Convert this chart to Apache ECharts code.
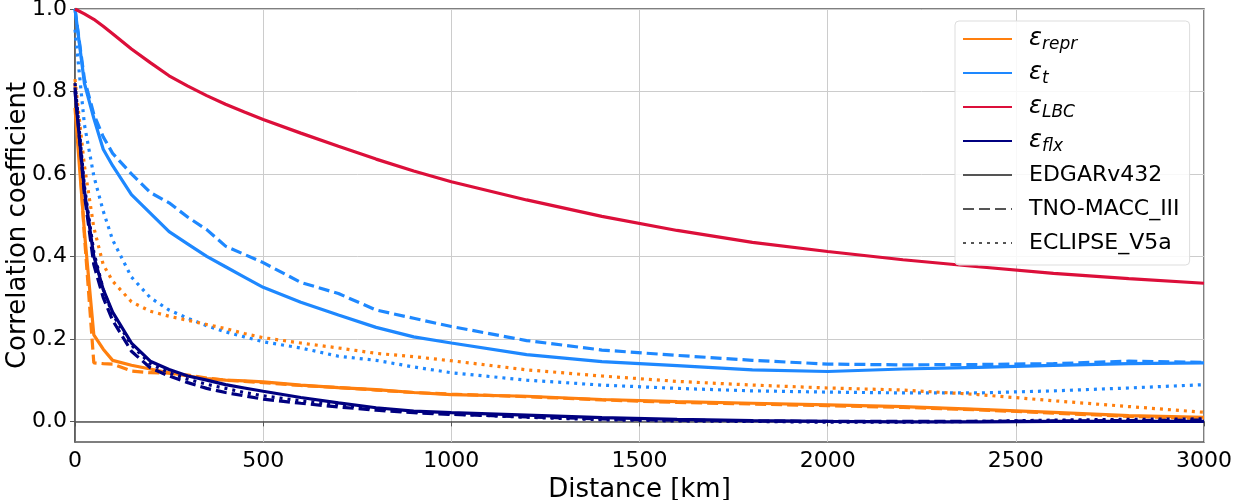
<!DOCTYPE html>
<html lang="en">
  <head>
    <meta charset="UTF-8" />
    <title>Correlation coefficient vs distance</title>
    <style>
      html, body { margin: 0; padding: 0; background: #fff; }
      #main { width: 1233px; height: 500px; }
    </style>
  </head>
  <body>
    <div id="main"></div>
    <script src="https://cdn.jsdelivr.net/npm/echarts@6/dist/echarts.min.js"></script>
    <script>
      // distance [km], shared by every curve
      const distance = [0, 25, 50, 75, 100, 150, 200, 250, 300, 350, 400, 450, 500, 600, 700, 800, 900, 1000, 1200, 1400, 1600, 1800, 2000, 2200, 2400, 2600, 2800, 3000];

      // eps_repr
      const reprEdgar = [0.76, 0.46, 0.21, 0.175, 0.148, 0.136, 0.127, 0.118, 0.11, 0.104, 0.1, 0.098, 0.096, 0.088, 0.082, 0.077, 0.07, 0.065, 0.061, 0.053, 0.048, 0.044, 0.04, 0.036, 0.029, 0.022, 0.014, 0.01];
      const reprTno = [0.82, 0.45, 0.142, 0.14, 0.139, 0.122, 0.118, 0.117, 0.112, 0.105, 0.1, 0.097, 0.094, 0.087, 0.082, 0.076, 0.07, 0.066, 0.06, 0.052, 0.046, 0.042, 0.038, 0.034, 0.028, 0.02, 0.012, 0.007];
      const reprEclipse = [0.83, 0.62, 0.47, 0.38, 0.34, 0.29, 0.267, 0.255, 0.245, 0.235, 0.225, 0.213, 0.203, 0.19, 0.178, 0.165, 0.157, 0.147, 0.125, 0.11, 0.097, 0.088, 0.081, 0.076, 0.065, 0.05, 0.036, 0.022];

      // eps_t
      const tEdgar = [1.0, 0.82, 0.735, 0.66, 0.62, 0.55, 0.505, 0.46, 0.43, 0.4, 0.375, 0.35, 0.325, 0.289, 0.258, 0.228, 0.205, 0.19, 0.162, 0.145, 0.135, 0.125, 0.121, 0.127, 0.131, 0.136, 0.14, 0.142];
      const tTno = [1.0, 0.83, 0.745, 0.69, 0.65, 0.6, 0.555, 0.53, 0.495, 0.465, 0.425, 0.405, 0.385, 0.337, 0.31, 0.27, 0.25, 0.23, 0.196, 0.173, 0.16, 0.148, 0.139, 0.137, 0.138, 0.14, 0.146, 0.143];
      const tEclipse = [0.95, 0.72, 0.595, 0.51, 0.44, 0.35, 0.3, 0.27, 0.25, 0.232, 0.217, 0.205, 0.193, 0.178, 0.158, 0.148, 0.132, 0.118, 0.1, 0.088, 0.08, 0.074, 0.071, 0.069, 0.069, 0.074, 0.081, 0.089];

      // eps_LBC (same for all inventories)
      const lbc = [1.0, 0.988, 0.975, 0.958, 0.94, 0.903, 0.87, 0.838, 0.813, 0.79, 0.769, 0.75, 0.732, 0.699, 0.667, 0.636, 0.607, 0.581, 0.537, 0.497, 0.463, 0.434, 0.412, 0.392, 0.375, 0.359, 0.346, 0.335];

      // eps_flx
      const flxEdgar = [0.8, 0.56, 0.4, 0.32, 0.265, 0.19, 0.146, 0.126, 0.11, 0.1, 0.089, 0.081, 0.073, 0.058, 0.045, 0.033, 0.025, 0.021, 0.015, 0.009, 0.005, 0.002, 0.0, -0.001, -0.001, 0.0, 0.0, 0.0];
      const flxTno = [0.81, 0.55, 0.38, 0.3, 0.245, 0.17, 0.13, 0.11, 0.094, 0.08, 0.07, 0.062, 0.054, 0.044, 0.035, 0.027, 0.021, 0.017, 0.011, 0.006, 0.003, 0.001, 0.0, 0.0, 0.0, 0.001, 0.002, 0.003];
      const flxEclipse = [0.82, 0.57, 0.41, 0.32, 0.26, 0.185, 0.14, 0.118, 0.102, 0.09, 0.08, 0.07, 0.062, 0.05, 0.04, 0.031, 0.023, 0.018, 0.01, 0.004, 0.001, 0.0, -0.002, -0.002, 0.0, 0.003, 0.005, 0.006];

      const yTicks = [0, 0.2, 0.4, 0.6, 0.8, 1.0];
      const inventories = ["EDGARv432", "TNO-MACC_III", "ECLIPSE_V5a"];
      const subs = { repr: "repr", t: "t", LBC: "LBC", flx: "flx" };

      const ORANGE = "#ff7f0e";
      const BLUE = "#1e88ff";
      const RED = "#dc0f3a";
      const NAVY = "#000080";
      const GREY = "#555555";
      const FONT = "DejaVu Sans";
      const DASH = [11, 5];
      const DOT = [3, 5];

      const pairs = (arr) => distance.map((d, i) => [d, arr[i]]);

      function line(name, arr, color, type) {
        return {
          name: name,
          type: "line",
          data: arr.length ? pairs(arr) : [],
          symbol: "none",
          animation: false,
          lineStyle: { color: color, width: 3.2, type: type },
          itemStyle: { color: color },
        };
      }

      const series = [
        line("t TNO", tTno, BLUE, DASH),
        line("t ECL", tEclipse, BLUE, DOT),
        line("repr ECL", reprEclipse, ORANGE, DOT),
        line("t", tEdgar, BLUE, "solid"),
        line("LBC", lbc, RED, "solid"),
        line("repr TNO", reprTno, ORANGE, DASH),
        line("repr", reprEdgar, ORANGE, "solid"),
        line("flx TNO", flxTno, NAVY, DASH),
        line("flx ECL", flxEclipse, NAVY, DOT),
        line("flx", flxEdgar, NAVY, "solid"),
        // legend-only entries for the line styles
        line(inventories[0], [], GREY, "solid"),
        line(inventories[1], [], GREY, DASH),
        line(inventories[2], [], GREY, DOT),
      ];

      const myChart = echarts.init(document.getElementById("main"));
      const option = {
        backgroundColor: "#fff",
        animation: false,
        grid: {
          left: 75,
          right: 29,
          top: 9,
          bottom: 58,
          show: true,
          borderColor: GREY,
          borderWidth: 1.5,
          outerBoundsMode: "none",
        },
        legend: {
          orient: "vertical",
          left: 955,
          top: 21,
          data: ["repr", "t", "LBC", "flx"].concat(inventories),
          selectedMode: false,
          itemWidth: 49,
          itemHeight: 14,
          itemGap: 6,
          padding: [4, 10, 8, 7],
          backgroundColor: "rgba(255,255,255,0.85)",
          borderColor: "#dddddd",
          borderWidth: 1,
          borderRadius: 4,
          itemStyle: { opacity: 0 },
          formatter: function (name) {
            if (subs[name]) return "{e|ε}{s|" + subs[name] + "}";
            return "{n|" + name + "}";
          },
          textStyle: {
            fontFamily: FONT,
            color: "#000",
            height: 28,
            lineHeight: 28,
            rich: {
              e: { fontFamily: FONT, fontSize: 24, fontStyle: "italic", lineHeight: 28, padding: [0, 0, 0, 12], color: "#000" },
              s: { fontFamily: FONT, fontSize: 17, fontStyle: "italic", lineHeight: 16, verticalAlign: "bottom", color: "#000" },
              n: { fontFamily: FONT, fontSize: 22, lineHeight: 28, padding: [0, 0, 0, 12], color: "#000" },
            },
          },
        },
        xAxis: {
          type: "value",
          min: 0,
          max: 3000,
          interval: 500,
          name: "Distance [km]",
          nameLocation: "middle",
          nameGap: 32,
          nameTextStyle: { fontFamily: FONT, fontSize: 26, color: "#000", verticalAlign: "top" },
          axisLine: { show: true, lineStyle: { color: GREY, width: 1.5 } },
          axisTick: { show: true, length: 5, lineStyle: { color: GREY } },
          axisLabel: { fontFamily: FONT, fontSize: 22, color: "#000", margin: 8, formatter: (v) => String(v) },
          splitLine: { show: true, lineStyle: { color: "#cccccc", width: 1 } },
        },
        yAxis: {
          type: "value",
          min: -0.05,
          max: 1.0,
          name: "Correlation coefficient",
          nameLocation: "middle",
          nameGap: 44,
          nameMoveOverlap: false,
          nameTextStyle: { fontFamily: FONT, fontSize: 26, color: "#000" },
          axisLine: { show: true, lineStyle: { color: GREY, width: 1.5 } },
          axisTick: { show: true, length: 5, customValues: yTicks, lineStyle: { color: GREY } },
          axisLabel: {
            fontFamily: FONT,
            fontSize: 22,
            color: "#000",
            margin: 8,
            customValues: yTicks,
            formatter: (v) => v.toFixed(1),
          },
          splitLine: { show: true, lineStyle: { color: "#cccccc", width: 1 } },
        },
        series: series,
      };
      myChart.setOption(option);
    </script>
  </body>
</html>
